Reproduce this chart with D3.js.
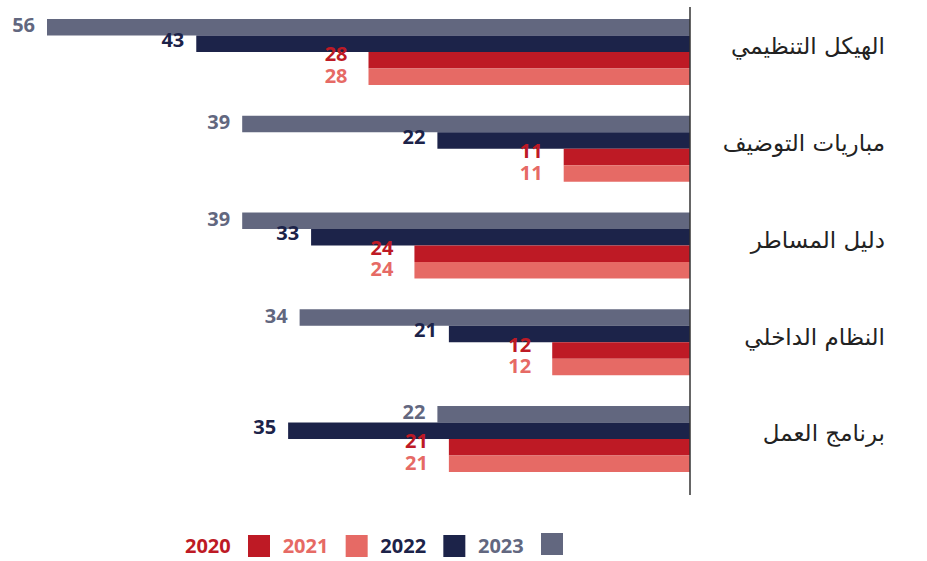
<!DOCTYPE html>
<html>
<head>
<meta charset="utf-8">
<script src="https://cdn.jsdelivr.net/npm/d3@7"></script>
<style>
  body { margin: 0; background: #fff; }
  svg { display: block; }
</style>
</head>
<body>
<svg id="chart"></svg>
<script>
// categories, top to bottom
var categories = ['الهيكل التنظيمي', 'مباريات التوضيف', 'دليل المساطر', 'النظام الداخلي', 'برنامج العمل'];

// series values
var v2020 = [28, 11, 24, 12, 21];
var v2021 = [28, 11, 24, 12, 21];
var v2022 = [43, 22, 33, 21, 35];
var v2023 = [56, 39, 39, 34, 22];

var years = ['2020', '2021', '2022', '2023'];
var colors = {'2020': '#be1a25', '2021': '#e66a65', '2022': '#1c2349', '2023': '#62677f'};
var values = {'2020': v2020, '2021': v2021, '2022': v2022, '2023': v2023};

// order of bars inside a group, top to bottom
var barOrder = ['2023', '2022', '2020', '2021'];

var svgWidth = 927,
    svgHeight = 561,
    axisX = 690;

var svg = d3.select('#chart')
    .attr('width', svgWidth)
    .attr('height', svgHeight);

var xScale = d3.scaleLinear()
    .domain([0, 56])
    .range([axisX, 47]);

var yGroup = d3.scaleBand()
    .domain(categories)
    .range([19, 472])
    .paddingInner(0.318)
    .paddingOuter(0);

var yBar = d3.scaleBand()
    .domain(barOrder)
    .range([0, yGroup.bandwidth()])
    .padding(0);

// label offsets per series
var labelGap = {'2023': 12, '2022': 12, '2020': 21, '2021': 21};
var labelDy = {'2023': -2, '2022': -4, '2020': -6, '2021': -1};

var groups = svg.selectAll('.group')
    .data(categories)
    .enter()
    .append('g')
    .attr('class', 'group')
    .attr('transform', function (d) {
        return 'translate(0,' + yGroup(d) + ')';
    });

var rows = [];
categories.forEach(function (c, i) {
    barOrder.forEach(function (y) {
        rows.push({cat: c, year: y, value: values[y][i]});
    });
});

groups.selectAll('rect')
    .data(function (c) {
        return rows.filter(function (r) { return r.cat === c; });
    })
    .enter()
    .append('rect')
    .attr('x', function (d) { return xScale(d.value); })
    .attr('y', function (d) { return yBar(d.year); })
    .attr('width', function (d) { return axisX - xScale(d.value); })
    .attr('height', yBar.bandwidth())
    .attr('fill', function (d) { return colors[d.year]; });

groups.selectAll('.val')
    .data(function (c) {
        return rows.filter(function (r) { return r.cat === c; });
    })
    .enter()
    .append('text')
    .attr('class', 'val')
    .attr('x', function (d) { return xScale(d.value) - labelGap[d.year]; })
    .attr('y', function (d) { return yBar(d.year) + yBar.bandwidth() / 2 + labelDy[d.year]; })
    .attr('dy', '0.36em')
    .attr('text-anchor', 'end')
    .attr('font-family', '"Open Sans", sans-serif')
    .attr('font-weight', 700)
    .attr('font-size', 20)
    .attr('fill', function (d) { return colors[d.year]; })
    .text(function (d) { return d.value; });

// category labels (right aligned at x=885)
var y_axis = d3.axisRight(yGroup).tickSize(0).tickPadding(0);
var yAxisG = svg.append('g')
    .attr('transform', 'translate(885,0)')
    .call(y_axis);
yAxisG.select('.domain').remove();
yAxisG.attr('text-anchor', null);
yAxisG.selectAll('text')
    .attr('direction', 'rtl')
    .attr('text-anchor', 'start')
    .attr('font-family', '"DejaVu Sans", "Noto Sans", sans-serif')
    .attr('font-size', 23)
    .attr('fill', '#222')
    .attr('dy', '0.1em');

// vertical baseline
svg.append('line')
    .attr('x1', axisX)
    .attr('x2', axisX)
    .attr('y1', 7)
    .attr('y2', 495)
    .attr('stroke', '#333')
    .attr('stroke-width', 1.5);

// legend
var legendX = d3.scalePoint()
    .domain(years)
    .range([185, 478]);

var legend = svg.selectAll('.legend')
    .data(years)
    .enter()
    .append('g')
    .attr('class', 'legend')
    .attr('transform', function (d) {
        return 'translate(' + legendX(d) + ',546)';
    });

legend.append('text')
    .attr('x', 0)
    .attr('dy', '0.36em')
    .attr('font-family', '"Open Sans", sans-serif')
    .attr('font-weight', 700)
    .attr('font-size', 20)
    .attr('fill', function (d) { return colors[d]; })
    .text(function (d) { return d; });

legend.append('rect')
    .attr('x', 63)
    .attr('y', function (d) { return d === '2023' ? -13 : -11; })
    .attr('width', 22)
    .attr('height', 22)
    .attr('fill', function (d) { return colors[d]; });
</script>
</body>
</html>
